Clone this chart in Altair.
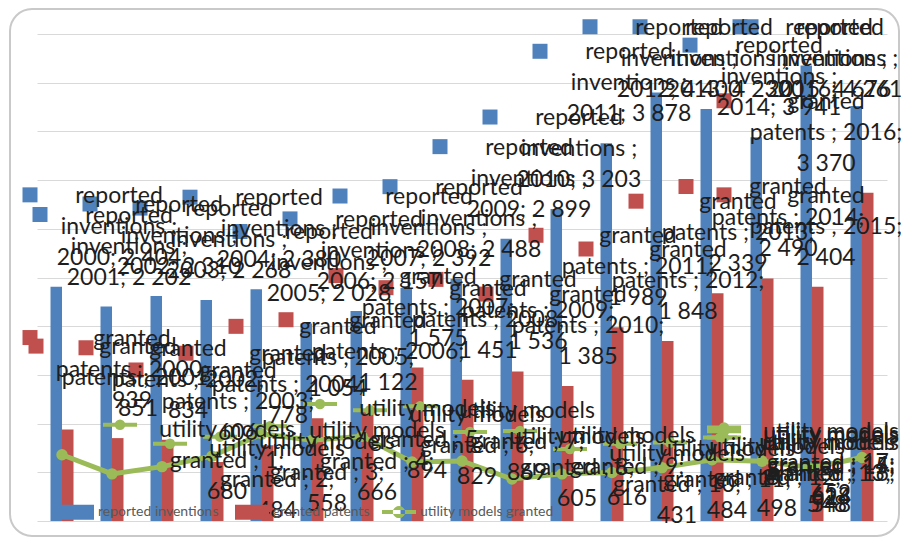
import altair as alt
import pandas as pd

years = ["2000", "2001", "2002", "2003", "2004", "2005", "2006", "2007", "2008",
         "2009", "2010", "2011", "2012", "2013", "2014", "2015", "2016"]
reported_inventions = [2404, 2202, 2310, 2268, 2380, 2028, 2157, 2392, 2488,
                       2899, 3203, 3878, 4400, 4230, 3941, 4676, 4261]
granted_patents = [939, 851, 834, 606, 778, 1054, 1122, 1575, 1451,
                   1536, 1385, 1989, 1848, 2339, 2490, 2404, 3370]
utility_models_granted = [680, 484, 558, 666, 894, 829, 869, 605, 616,
                          431, 484, 498, 548, 628, 614, 548, 652]
grid_values = [0, 500, 1000, 1500, 2000, 2500, 3000, 3500, 4000, 4500, 5000]

S1, S2, S3 = "reported inventions", "granted patents", "utility models granted"
BLUE, RED, GREEN = "#4f81bd", "#c0504d", "#9bbb59"
TXT = "#1e1e1e"
FONT = "Lato"


def fmt(v):
    return f"{v:,}".replace(",", " ")


rows = []
for i, y in enumerate(years):
    rows.append(dict(year=y, i=i, series=S1, value=reported_inventions[i],
                     label=f"reported\ninventions ;\n{y}; {fmt(reported_inventions[i])}"))
    rows.append(dict(year=y, i=i, series=S2, value=granted_patents[i],
                     label=f"granted\npatents ; {y};\n{fmt(granted_patents[i])}"))
    rows.append(dict(year=y, i=i, series=S3, value=utility_models_granted[i],
                     label=f"utility models\ngranted ; {i + 1};\n{fmt(utility_models_granted[i])}"))
df = pd.DataFrame(rows)

base = alt.Chart(df)
ys = alt.Scale(domain=[0, 5000], nice=False, zero=True)
y_axis = alt.Axis(values=grid_values, labels=False, ticks=False, domain=False,
                  grid=True, gridColor="#d9d9d9", gridWidth=1, title=None)
y_enc = alt.Y("value:Q", scale=ys, axis=y_axis)
ly_enc = alt.Y("ly:Q", scale=ys, axis=y_axis)
xq = alt.Scale(domain=[-0.5, 16.5], nice=False, zero=False)

f1 = f"datum.series == '{S1}'"
f2 = f"datum.series == '{S2}'"
f3 = f"datum.series == '{S3}'"

frame = alt.Chart(alt.Data(values=[{"a": 1}])).mark_rect(
    fill="transparent", stroke="#c9c9c9", strokeWidth=2, cornerRadius=22
).encode(x=alt.value(-27), x2=alt.value(862), y=alt.value(-25), y2=alt.value(502))

bars = base.transform_filter(f"{f1} || {f2}").mark_bar().encode(
    x=alt.X("year:N", sort=years, axis=None,
            scale=alt.Scale(paddingInner=0.54, paddingOuter=0.27)),
    xOffset=alt.XOffset("series:N", sort=[S1, S2],
                        scale=alt.Scale(paddingInner=0, paddingOuter=0)),
    y=y_enc,
    color=alt.Color("series:N", scale=alt.Scale(domain=[S1, S2], range=[BLUE, RED]),
                    legend=alt.Legend(orient="none", legendX=23, legendY=461,
                                      direction="horizontal", columns=2, title=None,
                                      symbolType="M-1,-0.44H1V0.44H-1Z", symbolSize=1156,
                                      symbolStrokeWidth=0, symbolOpacity=1,
                                      labelFont=FONT, labelFontSize=14, labelColor="#595959",
                                      labelOffset=4, columnPadding=16, padding=0)),
)

line = base.transform_filter(f3).mark_line(color=GREEN, strokeWidth=5).encode(
    x=alt.X("i:Q", scale=xq, axis=None), y=y_enc)

points = base.transform_filter(f3).mark_point(filled=True, size=130, opacity=1).encode(
    x=alt.X("i:Q", scale=xq, axis=None), y=y_enc,
    color=alt.Color("series:N", scale=alt.Scale(domain=[S3], range=[GREEN]),
                    legend=alt.Legend(orient="none", legendX=345, legendY=461,
                                      direction="horizontal", title=None,
                                      symbolType="M-1,-0.12H1V0.12H-1Z M-0.36,0A0.36,0.36 0 1,0 0.36,0A0.36,0.36 0 1,0 -0.36,0Z",
                                      symbolSize=1156, symbolStrokeWidth=0, symbolOpacity=1,
                                      labelFont=FONT, labelFontSize=14, labelColor="#595959",
                                      labelOffset=4, padding=0)),
)

text_props = dict(font=FONT, fontSize=23, lineBreak="\n", lineHeight=31,
                  align="center", baseline="alphabetic", color=TXT)

# labels are kept inside the chart area, as the spreadsheet does
bar_ly = "min(datum.value, 4130)"

# reported inventions labels
b_key = base.transform_filter(f1).transform_calculate(
    kx="clamp(datum.i + 0.34, 1.14, 15.56) - 1.78", ly=bar_ly
).mark_square(size=225, color=BLUE, opacity=1, yOffset=-92).encode(
    x=alt.X("kx:Q", scale=xq, axis=None), y=ly_enc)
b_lbl = base.transform_filter(f1).transform_calculate(
    lx="clamp(datum.i + 0.34, 1.14, 15.56)", ly=bar_ly
).mark_text(dy=-84, **text_props).encode(
    x=alt.X("lx:Q", scale=xq, axis=None), y=ly_enc, text="label:N")

# granted patents labels
r_key = base.transform_filter(f2).transform_calculate(
    kx="clamp(datum.i + 0.52, 1.4, 15.28) - 2.04", ly=bar_ly
).mark_square(size=225, color=RED, opacity=1, yOffset=-92).encode(
    x=alt.X("kx:Q", scale=xq, axis=None), y=ly_enc)
r_lbl = base.transform_filter(f2).transform_calculate(
    lx="clamp(datum.i + 0.52, 1.4, 15.28)", ly=bar_ly
).mark_text(dy=-84, **text_props).encode(
    x=alt.X("lx:Q", scale=xq, axis=None), y=ly_enc, text="label:N")

# utility models labels
g_key_line = base.transform_filter(f3).transform_calculate(
    kx="min(datum.i + 3.3, 15.38) - 2.14"
).mark_tick(orient="horizontal", size=34, thickness=4, color=GREEN, opacity=1, yOffset=-30).encode(
    x=alt.X("kx:Q", scale=xq, axis=None), y=y_enc)
g_key_dot = base.transform_filter(f3).transform_calculate(
    kx="min(datum.i + 3.3, 15.38) - 2.14"
).mark_point(filled=True, size=110, color=GREEN, opacity=1, yOffset=-30).encode(
    x=alt.X("kx:Q", scale=xq, axis=None), y=y_enc)
g_lbl = base.transform_filter(f3).transform_calculate(
    lx="min(datum.i + 3.3, 15.38)"
).mark_text(dy=-18, **text_props).encode(
    x=alt.X("lx:Q", scale=xq, axis=None), y=y_enc, text="label:N")

chart = alt.layer(
    frame, bars, line, points, b_key, r_key, g_key_line, g_key_dot, b_lbl, r_lbl, g_lbl
).resolve_scale(x="independent", color="independent").properties(
    width=850, height=487,
    padding={"left": 29, "top": 26, "right": 14, "bottom": 17},
    autosize=alt.AutoSizeParams(type="none"),
    background="white",
).configure_view(stroke=None)

chart.save("out.html", embed_options={"renderer": "svg", "actions": False})
